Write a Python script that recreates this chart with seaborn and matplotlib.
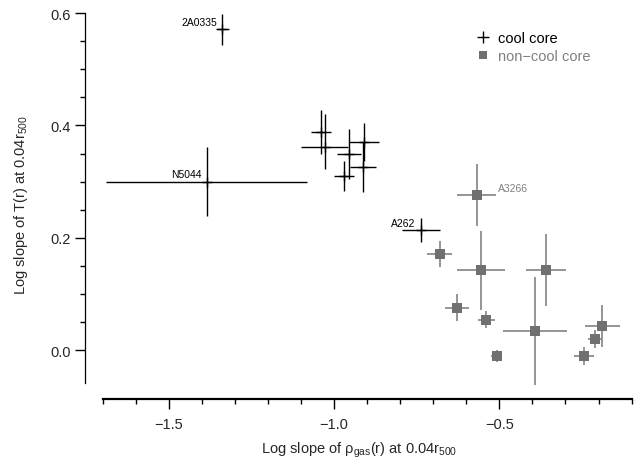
import seaborn as sns
import pandas as pd
import numpy as np
import matplotlib
matplotlib.use("Agg")
import matplotlib.pyplot as plt
from matplotlib.lines import Line2D

# cool core clusters
cc_name = ["2A0335", "N5044", "", "", "", "", "", "", "A262"]
cc_x = [-1.339, -1.386, -1.040, -1.028, -0.955, -0.910, -0.912, -0.970, -0.738]
cc_y = [0.571, 0.300, 0.388, 0.362, 0.349, 0.371, 0.326, 0.310, 0.214]
cc_xerr = [0.020, 0.305, 0.030, 0.071, 0.036, 0.045, 0.040, 0.029, 0.058]
cc_yerr_lo = [0.027, 0.062, 0.039, 0.040, 0.045, 0.034, 0.044, 0.027, 0.022]
cc_yerr_hi = [0.027, 0.062, 0.039, 0.058, 0.045, 0.034, 0.044, 0.027, 0.022]

# non-cool core clusters
ncc_name = ["A3266", "", "", "", "", "", "", "", "", "", ""]
ncc_x = [-0.569, -0.681, -0.556, -0.359, -0.629, -0.539, -0.393, -0.508, -0.244, -0.211, -0.188]
ncc_y = [0.276, 0.171, 0.142, 0.142, 0.075, 0.054, 0.034, -0.011, -0.011, 0.020, 0.043]
ncc_xerr = [0.058, 0.037, 0.072, 0.060, 0.037, 0.025, 0.097, 0.016, 0.031, 0.020, 0.054]
ncc_yerr = [0.056, 0.024, 0.070, 0.064, 0.024, 0.015, 0.096, 0.011, 0.016, 0.016, 0.037]

cc = pd.DataFrame({"x": cc_x, "y": cc_y, "name": cc_name})
ncc = pd.DataFrame({"x": ncc_x, "y": ncc_y, "name": ncc_name})

sns.set_theme(style="ticks")
plt.rcParams["font.family"] = ["Liberation Sans", "DejaVu Sans"]
plt.rcParams["mathtext.fontset"] = "custom"
plt.rcParams["mathtext.rm"] = "Liberation Sans"
plt.rcParams["mathtext.it"] = "Liberation Sans:italic"

grey = "#707070"
grey_bar = "#8c8c8c"

fig = plt.figure(figsize=(6.38, 4.64), dpi=100)
ax = fig.add_axes([0.1332, 0.138, 0.8588, 0.840])

# error bars
ax.errorbar(cc_x, cc_y, xerr=cc_xerr, yerr=[cc_yerr_lo, cc_yerr_hi],
            fmt="none", ecolor="black", elinewidth=1.0, capsize=0, zorder=2)
ax.errorbar(ncc_x, ncc_y, xerr=ncc_xerr, yerr=ncc_yerr,
            fmt="none", ecolor=grey_bar, elinewidth=1.3, capsize=0, zorder=2)

# points
sns.scatterplot(data=cc, x="x", y="y", marker="+", color="black", s=60,
                linewidth=1.0, ax=ax, zorder=3, legend=False)
sns.scatterplot(data=ncc, x="x", y="y", marker="s", color=grey, s=45,
                linewidth=0, ax=ax, zorder=3, legend=False)

# labels on some clusters
for _, r in cc[cc["name"] != ""].iterrows():
    ax.annotate(r["name"], (r["x"], r["y"]), xytext=(-3.6, 1.6),
                textcoords="offset points", ha="right", va="bottom",
                fontsize=7.5, color="black")
for _, r in ncc[ncc["name"] != ""].iterrows():
    ax.annotate(r["name"], (r["x"], r["y"]), xytext=(15.5, 1.6),
                textcoords="offset points", ha="left", va="bottom",
                fontsize=7.5, color="#808080")

ax.set_xlim(-1.754, -0.096)
ax.set_ylim(-0.0872, 0.607)

ax.set_xticks([-1.5, -1.0, -0.5])
ax.set_xticklabels(["\u22121.5", "\u22121.0", "\u22120.5"])
ax.set_xticks(np.arange(-1.7, -0.05, 0.1), minor=True)
ax.set_yticks([0.0, 0.2, 0.4, 0.6])
ax.set_yticklabels(["0.0", "0.2", "0.4", "0.6"])
ax.set_yticks(np.arange(0.0, 0.61, 0.05), minor=True)

ax.tick_params(axis="both", which="major", direction="out", length=7,
               width=1.0, labelsize=10.5, color="black")
ax.tick_params(axis="both", which="minor", direction="out", length=3.5,
               width=1.0, color="black")
ax.tick_params(axis="x", which="major", pad=6)
ax.tick_params(axis="y", which="major", pad=3)

sns.despine(ax=ax)
ax.spines["left"].set_bounds(-0.058, 0.6)
ax.spines["bottom"].set_bounds(-1.7, -0.1)
ax.spines["bottom"].set_linewidth(1.6)
ax.spines["left"].set_linewidth(0.9)
ax.spines["left"].set_color("black")
ax.spines["bottom"].set_color("black")

ax.set_xlabel("Log slope of \u03c1$_{\\rm gas}$(r) at 0.04r$_{500}$",
              fontsize=10.5, labelpad=6)
ax.set_ylabel("Log slope of T(r) at 0.04r$_{500}$", fontsize=10.5, labelpad=15)

handles = [Line2D([], [], marker="+", color="black", linestyle="none",
                  markersize=9, markeredgewidth=1.0),
           Line2D([], [], marker="s", color=grey, linestyle="none",
                  markersize=6, markeredgewidth=0)]
ax.legend(handles, ["cool core", "non\u2212cool core"], loc="upper left",
          bbox_to_anchor=(475.4 / 638, 1 - 32 / 464),
          bbox_transform=fig.transFigure, frameon=False, fontsize=10.5,
          handlelength=1.0, handletextpad=0.57, labelspacing=0.3,
          borderpad=0, borderaxespad=0, labelcolor=["black", "#808080"])

fig.savefig("out.png", dpi=100)
